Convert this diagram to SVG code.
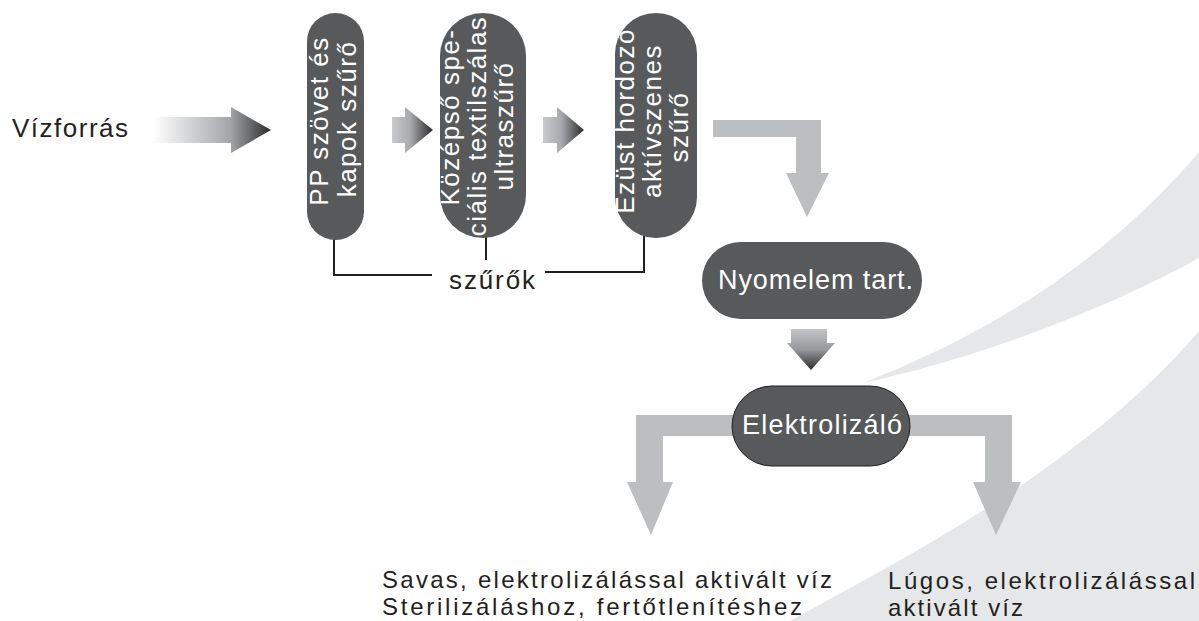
<svg xmlns="http://www.w3.org/2000/svg" width="1199" height="621" viewBox="0 0 1199 621">
<defs>
<linearGradient id="gBig" x1="0" y1="0" x2="1" y2="0">
<stop offset="0" stop-color="#ffffff"/>
<stop offset="0.66" stop-color="#a2a4a7"/>
<stop offset="1" stop-color="#2b2a2b"/>
</linearGradient>
<linearGradient id="gSmall" x1="0" y1="0" x2="1" y2="0">
<stop offset="0" stop-color="#c9cacc"/>
<stop offset="0.45" stop-color="#a7a9ac"/>
<stop offset="1" stop-color="#2b2a2b"/>
</linearGradient>
<linearGradient id="gDown" x1="0" y1="0" x2="0" y2="1">
<stop offset="0" stop-color="#c2c4c6"/>
<stop offset="0.5" stop-color="#97999c"/>
<stop offset="1" stop-color="#2b2a2b"/>
</linearGradient>
<style>
.bg{fill:#e6e7e8}
.pill{fill:#58595b}
.gray{fill:#bcbec0}
.wt{fill:#ffffff;font-family:"Liberation Sans",Arial,sans-serif;font-size:26px;letter-spacing:1.5px}
.wh{fill:#ffffff;font-family:"Liberation Sans",Arial,sans-serif;font-size:27px}
.bk{fill:#231f20;font-family:"Liberation Sans",Arial,sans-serif;font-size:26px}
.bs{fill:#231f20;font-family:"Liberation Sans",Arial,sans-serif;font-size:24px}
.line{fill:none;stroke:#231f20;stroke-width:2}
</style>
</defs>
<g id="background">
<path class="bg" d="M863 383 C960 345 1090 280 1199 152 L1199 258 C1090 318 960 362 863 383 Z"/>
<path class="bg" d="M790 621 C900 560 1080 470 1199 331 L1199 621 Z"/>
</g>
<g id="connectors">
<path fill="url(#gBig)" d="M153 117 H231 V107 L271 130 L231 153 V143 H153 Z"/>
<path fill="url(#gSmall)" d="M392 117 H405 V107 L433 130 L405 153 V143 H392 Z"/>
<path fill="url(#gSmall)" d="M543 117 H557 V107 L584 130 L557 153 V143 H543 Z"/>
<path class="gray" d="M713 120 H821 V173 H829 L807 217 L786 173 H796 V137 H713 Z"/>
<path fill="url(#gDown)" d="M791 329 H827 V343 H835 L811 370 L787 343 H791 Z"/>
<path class="gray" d="M760 415 H636 V482 H627 L651 535 L673 482 H663 V436 H760 Z"/>
<path class="gray" d="M890 415 H1012 V482 H1021 L996 535 L973 482 H985 V436 H890 Z"/>
<path class="line" d="M334 238 V275 H432"/>
<path class="line" d="M545 272 H644 V236"/>
<path class="line" d="M486 236 V260"/>
</g>
<g id="source">
<text class="bk" x="12" y="137" font-size="27" textLength="116" lengthAdjust="spacing">Vízforrás</text>
</g>
<g id="filter1">
<rect class="pill" x="307" y="13" width="57" height="227" rx="28.5"/>
<text class="wt" transform="translate(328,121) rotate(-90)" text-anchor="middle">PP szövet és</text>
<text class="wt" transform="translate(356,119) rotate(-90)" text-anchor="middle">kapok szűrő</text>
</g>
<g id="filter2">
<rect class="pill" x="440" y="13" width="86" height="225" rx="43"/>
<text class="wt" transform="translate(459,117) rotate(-90)" text-anchor="middle">Középső spe-</text>
<text class="wt" transform="translate(486,126) rotate(-90)" text-anchor="middle">ciális textilszálas</text>
<text class="wt" transform="translate(513,126) rotate(-90)" text-anchor="middle">ultraszűrő</text>
</g>
<g id="filter3">
<rect class="pill" x="615" y="13" width="82" height="225" rx="41"/>
<text class="wt" transform="translate(634,121) rotate(-90)" text-anchor="middle">Ezüst hordozó</text>
<text class="wt" transform="translate(661,121) rotate(-90)" text-anchor="middle">aktívszenes</text>
<text class="wt" transform="translate(688,127) rotate(-90)" text-anchor="middle">szűrő</text>
</g>
<g id="filters-label">
<text class="bk" x="449" y="289" font-size="28" textLength="86" lengthAdjust="spacing">szűrők</text>
</g>
<g id="trace">
<rect class="pill" x="702" y="242" width="220" height="77" rx="38.5"/>
<text class="wh" x="718" y="289" textLength="195" lengthAdjust="spacing">Nyomelem tart.</text>
</g>
<g id="electrolyzer">
<rect class="pill" x="732" y="386" width="178" height="80" rx="40" stroke="#231f20" stroke-width="1"/>
<text class="wh" x="742" y="434" textLength="160" lengthAdjust="spacing">Elektrolizáló</text>
</g>
<g id="acid">
<text class="bs" x="382" y="588" textLength="450" lengthAdjust="spacing">Savas, elektrolizálással aktivált víz</text>
<text class="bs" x="382" y="615" textLength="420" lengthAdjust="spacing">Sterilizáláshoz, fertőtlenítéshez</text>
</g>
<g id="alkaline">
<text class="bs" x="888" y="589" textLength="307" lengthAdjust="spacing">Lúgos, elektrolizálással</text>
<text class="bs" x="888" y="616" textLength="135" lengthAdjust="spacing">aktivált víz</text>
</g>
</svg>
